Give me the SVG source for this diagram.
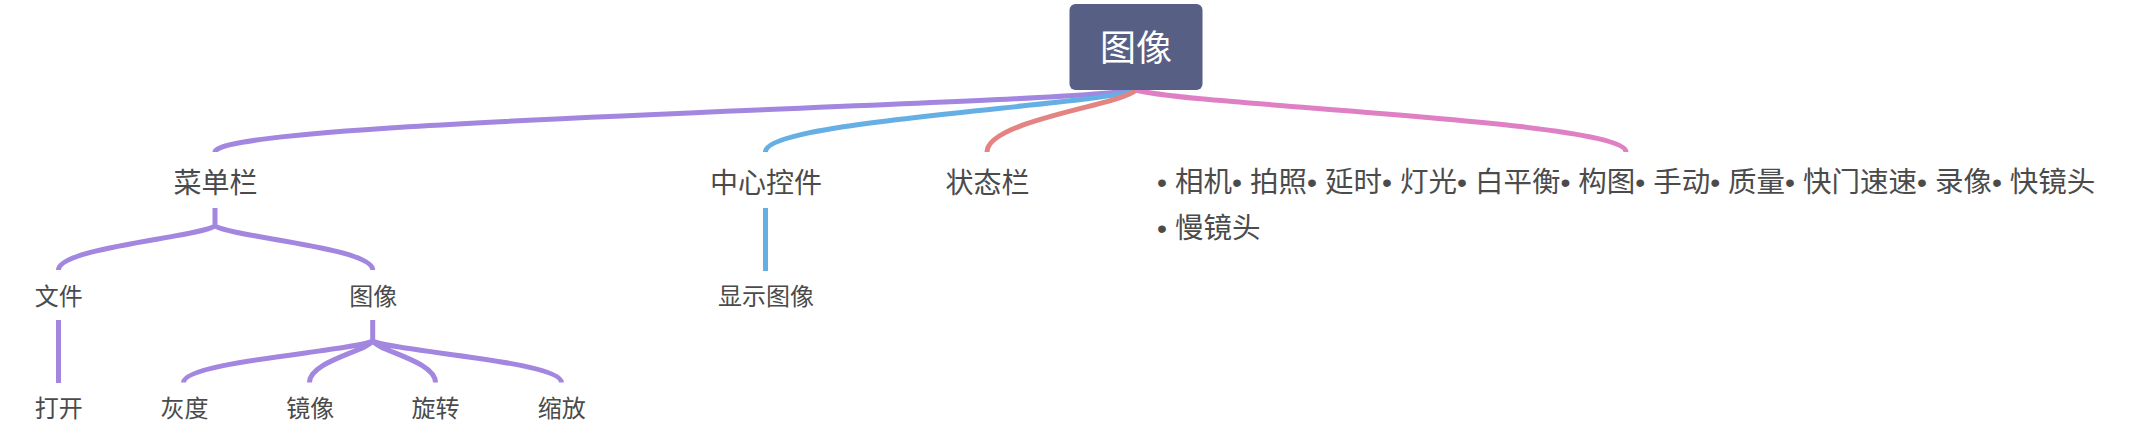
<svg xmlns="http://www.w3.org/2000/svg" width="2132" height="436" viewBox="0 0 2132 436">
<style>
.t{font-family:"Noto Sans CJK SC","Liberation Sans",sans-serif;fill:#4b4b4b;text-anchor:middle}
.l1{font-size:28px}
.l2{font-size:24px}
.list{font-family:"Liberation Sans","Noto Sans CJK SC",sans-serif;font-size:28.5px;fill:#4b4b4b}
.c{fill:none;stroke-width:5;stroke-linecap:butt}
.p{stroke:#a386df}
.b{stroke:#65afe4}
.r{stroke:#e48482}
.k{stroke:#df80c5}
</style>
<rect width="2132" height="436" fill="#ffffff"/>
<g id="connectors">
<path class="c p" d="M1136,90 C1040,105.5 215,120.4 215,152"/>
<path class="c b" d="M1136,90 C1097.4,105.5 765.5,120.4 765.5,152"/>
<path class="c r" d="M1136,90 C1120.5,105.5 987,120.4 987,152"/>
<path class="c k" d="M1136,90 C1187,105.5 1626,120.4 1626,152"/>
<path class="c p" d="M215,208 L215,226 M215,226 C198.7,237 58.5,247.6 58.5,270 M215,226 C231.4,237 372.7,247.6 372.7,270"/>
<path class="c p" d="M58.5,320 L58.5,383"/>
<path class="c b" d="M765.5,208 L765.5,271"/>
<path class="c p" d="M372.7,320 L372.7,341 M372.7,341 C353,351.4 183.5,361.3 183.5,382.5 M372.7,341 C366.1,351.4 309.5,361.3 309.5,382.5 M372.7,341 C379.2,351.4 435.5,361.3 435.5,382.5 M372.7,341 C392.3,351.4 561.5,361.3 561.5,382.5"/>
</g>
<g id="root">
<rect x="1069.5" y="4" width="133" height="86" rx="6" fill="#585f85"/>
<text class="t" x="1136" y="61" font-size="36" style="fill:#ffffff">图像</text>
</g>
<g id="menubar"><text class="t l1" x="215.5" y="192.6">菜单栏</text></g>
<g id="center"><text class="t l1" x="766" y="192.6">中心控件</text></g>
<g id="statusbar"><text class="t l1" x="987.5" y="192.6">状态栏</text></g>
<g id="features">
<text class="list" y="192.3"><tspan x="1157">• 相机</tspan><tspan x="1232">• 拍照</tspan><tspan x="1307">• 延时</tspan><tspan x="1382">• 灯光</tspan><tspan x="1457">• 白平衡</tspan><tspan x="1560.4">• 构图</tspan><tspan x="1635.3">• 手动</tspan><tspan x="1710.2">• 质量</tspan><tspan x="1785.1">• 快门速速</tspan><tspan x="1917">• 录像</tspan><tspan x="1991.9">• 快镜头</tspan></text>
<text class="list" x="1157" y="238.3">• 慢镜头</text>
</g>
<g id="file"><text class="t l2" x="58.8" y="305">文件</text></g>
<g id="image"><text class="t l2" x="373.3" y="305">图像</text></g>
<g id="display"><text class="t l2" x="766" y="305">显示图像</text></g>
<g id="open"><text class="t l2" x="58.8" y="416.6">打开</text></g>
<g id="gray"><text class="t l2" x="184.5" y="416.6">灰度</text></g>
<g id="mirror"><text class="t l2" x="310.3" y="416.6">镜像</text></g>
<g id="rotate"><text class="t l2" x="435.5" y="416.6">旋转</text></g>
<g id="scale"><text class="t l2" x="561.7" y="416.6">缩放</text></g>
</svg>
